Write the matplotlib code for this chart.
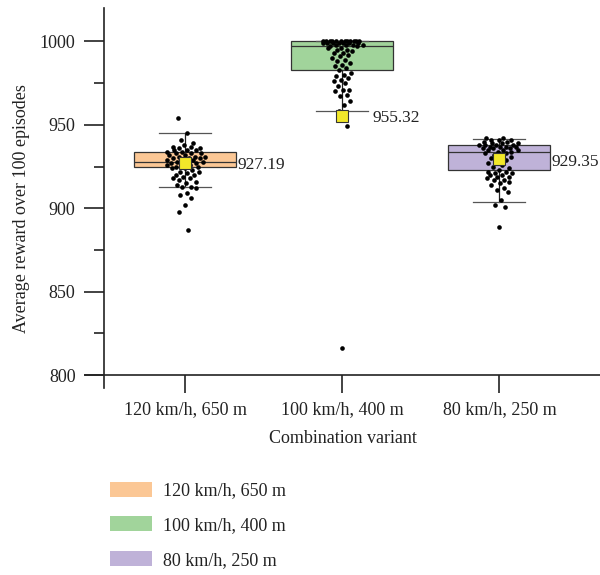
import numpy as np
import matplotlib
matplotlib.use("Agg")
from matplotlib import pyplot as plt
from matplotlib.patches import Patch
from matplotlib.ticker import MultipleLocator

plt.rcParams["font.family"] = ["Liberation Serif", "DejaVu Serif"]

# --- data ---
variants = ["120 km/h, 650 m", "100 km/h, 400 m", "80 km/h, 250 m"]
colors = ["#fbc795", "#a1d49b", "#bfb2d8"]

rewards_120 = [954, 945, 941, 939, 938, 937, 937, 936, 936, 935, 935, 935, 934, 934,
               933, 933, 933, 932, 932, 931, 931, 931, 930, 930, 930, 929, 929, 929,
               928, 928, 928, 927, 927, 927, 926, 926, 925, 925, 924, 924, 923, 922,
               922, 921, 920, 920, 919, 918, 918, 917, 916, 915, 914, 913, 913, 912,
               909, 908, 906, 902, 898, 887]
rewards_100 = [1000, 1000, 1000, 1000, 1000, 1000, 1000, 1000, 1000, 1000, 1000, 1000,
               999, 999, 999, 999, 999, 999, 999, 998, 998, 998, 998, 997, 997, 996,
               996, 995, 995, 994, 993, 993, 992, 991, 990, 989, 988, 987, 986, 985,
               984, 983, 981, 980, 979, 978, 977, 976, 975, 973, 971, 971, 970, 968,
               967, 964, 962, 958, 949, 816]
rewards_80 = [942, 942, 941, 941, 941, 940, 940, 939, 939, 939, 938, 938, 938, 938,
              937, 937, 937, 937, 936, 936, 936, 935, 935, 935, 934, 934, 933, 933,
              932, 931, 930, 930, 929, 928, 927, 926, 925, 924, 923, 922, 922, 921,
              921, 920, 920, 919, 919, 918, 917, 917, 916, 915, 914, 912, 911, 910,
              905, 902, 901, 889]

q1 = [924.5, 983.0, 923.0]
medians = [928.0, 997.5, 934.0]
q3 = [934.0, 1000.0, 938.0]
whisk_lo = [913.0, 958.5, 903.5]
whisk_hi = [945.0, 1000.0, 941.5]
means = [927.19, 955.32, 929.35]

groups = [rewards_120, rewards_100, rewards_80]
label_dx = [0.335, 0.19, 0.33]

fig = plt.figure(figsize=(6, 5.75), dpi=100)
ax = fig.add_axes([0.1417, 0.3245, 0.8583, 0.6615])

stats = []
for i in range(3):
    stats.append(dict(q1=q1[i], med=medians[i], q3=q3[i],
                      whislo=whisk_lo[i], whishi=whisk_hi[i],
                      mean=means[i], fliers=[]))

bp = ax.bxp(stats, positions=range(3), widths=0.65, capwidths=0.33,
            patch_artist=True, showfliers=False,
            boxprops=dict(linewidth=0.9, edgecolor="#333333"),
            medianprops=dict(color="#333333", linewidth=0.9),
            whiskerprops=dict(color="#222222", linewidth=0.9),
            capprops=dict(color="#555555", linewidth=0.9))
for patch, c in zip(bp["boxes"], colors):
    patch.set_facecolor(c)

# jitter: deterministic, wider where the dots are dense
for i, vals in enumerate(groups):
    v = np.array(vals, dtype=float)
    dens = np.array([(np.abs(v - x) <= 3).sum() for x in v], dtype=float)
    spread = 0.04 + 0.10 * dens / dens.max()
    offs = ((np.arange(len(v)) * 0.618034) % 1 - 0.5) * 2 * spread
    ax.scatter(i + offs, v, s=11, color="black", zorder=3, linewidths=0)

ax.plot(range(3), means, linestyle="none", marker="s", markersize=9,
        markerfacecolor="#f2e82a", markeredgecolor="#333333",
        markeredgewidth=0.8, zorder=4)

for i in range(3):
    ax.text(i + label_dx[i], means[i] - 1.5, f"{means[i]:.2f}", fontsize=12.5,
            va="center", ha="left", color="#222222")

ax.set_xlim(-0.637, 2.64)
ax.set_ylim(792, 1020)
ax.spines["top"].set_visible(False)
ax.spines["right"].set_visible(False)
ax.spines["left"].set_position(("data", -0.516))
ax.spines["bottom"].set_position(("data", 800))
for s in ("left", "bottom"):
    ax.spines[s].set_linewidth(1.2)
    ax.spines[s].set_color("#222222")

ax.set_xticks(range(3))
ax.set_xticklabels(variants)
ax.yaxis.set_major_locator(MultipleLocator(50))
ax.yaxis.set_minor_locator(MultipleLocator(25))
ax.set_yticks([800, 850, 900, 950, 1000])
ax.tick_params(axis="x", direction="out", length=13, width=1.2, pad=6,
               labelsize=13, colors="#222222")
ax.tick_params(axis="y", which="major", direction="out", length=14.5, width=1.2,
               pad=6, labelsize=13, colors="#222222")
ax.tick_params(axis="y", which="minor", direction="out", length=7, width=1.2,
               colors="#222222")

ax.set_xlabel("Combination variant", fontsize=13, color="#222222", labelpad=8)
ax.set_ylabel("Average reward over 100 episodes", fontsize=13, color="#222222")
ax.yaxis.set_label_coords(-0.106, 0.474)

handles = [Patch(facecolor=c, edgecolor="none") for c in colors]
fig.legend(handles, variants, loc="upper left", bbox_to_anchor=(0.172, 0.175),
           frameon=False, fontsize=13, handlelength=2.3, handleheight=0.9,
           handletextpad=0.6, labelspacing=0.95, borderaxespad=0,
           labelcolor="#222222")

fig.savefig("out.png", dpi=100)
